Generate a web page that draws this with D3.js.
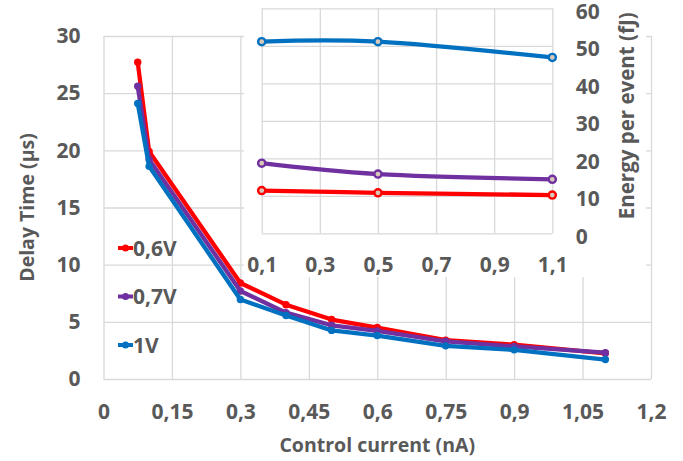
<!DOCTYPE html>
<html lang="en">
<head>
  <meta charset="UTF-8">
  <title>Delay time and energy</title>
  <script src="https://cdn.jsdelivr.net/npm/d3@7"></script>
  <style>
    html, body {
      margin: 0;
      padding: 0;
      background: #fff;
    }
    text {
      font-family: "Open Sans", Lato, sans-serif;
      font-weight: bold;
      fill: #595959;
    }
  </style>
</head>
<body>
  <svg id="chart" width="683" height="461"></svg>
  <script>
    // main chart: delay time vs control current
    const currents = [0.075, 0.1, 0.3, 0.4, 0.5, 0.6, 0.75, 0.9, 1.1];
    const delay06 = [27.7, 19.9, 8.4, 6.5, 5.2, 4.5, 3.4, 3.0, 2.25];
    const delay07 = [25.6, 19.2, 7.7, 5.8, 4.7, 4.2, 3.3, 2.85, 2.3];
    const delay1 = [24.1, 18.6, 6.95, 5.55, 4.25, 3.8, 2.9, 2.55, 1.7];
    const mainXTicks = [0, 0.15, 0.3, 0.45, 0.6, 0.75, 0.9, 1.05, 1.2];
    const mainYTicks = [0, 5, 10, 15, 20, 25, 30];

    // inset: energy per event
    const insetCurrents = [0.1, 0.5, 1.1];
    const energy06 = [11.4, 10.8, 10.2];
    const energy07 = [18.7, 15.8, 14.4];
    const energy1 = [51.1, 51.1, 46.9];
    const insetXTicks = [0.1, 0.3, 0.5, 0.7, 0.9, 1.1];
    const insetYTicks = [0, 10, 20, 30, 40, 50, 60];

    const seriesNames = ['0,6V', '0,7V', '1V'];
    const colors = ['#ff0000', '#7030a0', '#0070c0'];

    const locale = d3.formatLocale({decimal: ',', thousands: '.', grouping: [3], currency: ['', '']});
    const fmt2 = locale.format('.2~f');
    const fmt1 = locale.format('.1f');

    const svg = d3.select('#chart');
    const grid = '#d9d9d9';

    // ---- main chart
    const x = d3.scaleLinear().domain([0, 1.2]).range([103.5, 651]);
    const y = d3.scaleLinear().domain([0, 30]).range([379, 36]);

    const main = svg.append('g');

    // gridlines
    main.append('g')
      .attr('transform', `translate(0,${y(0)})`)
      .call(d3.axisBottom(x).tickValues(mainXTicks).tickSize(y(30) - y(0)).tickFormat(''))
      .call(g => g.select('.domain').remove())
      .call(g => g.selectAll('line').attr('stroke', grid).attr('stroke-width', 1.3));
    main.append('g')
      .attr('transform', `translate(${x(0)},0)`)
      .call(d3.axisLeft(y).tickValues(mainYTicks).tickSize(x(0) - x(1.2)).tickFormat(''))
      .call(g => g.select('.domain').remove())
      .call(g => g.selectAll('line').attr('stroke', grid).attr('stroke-width', 1.3));

    // tick labels
    main.append('g')
      .attr('transform', `translate(0,${y(0)})`)
      .call(d3.axisBottom(x).tickValues(mainXTicks).tickSize(0).tickPadding(25).tickFormat(fmt2))
      .call(g => g.select('.domain').remove())
      .call(g => g.selectAll('text').attr('font-size', 21).attr('fill', '#595959').attr('font-family', null));
    main.append('g')
      .attr('transform', `translate(${x(0)},0)`)
      .call(d3.axisLeft(y).tickValues(mainYTicks).tickSize(0).tickPadding(23))
      .call(g => g.select('.domain').remove())
      .call(g => g.selectAll('text').attr('font-size', 21).attr('fill', '#595959').attr('font-family', null));

    main.append('text')
      .attr('x', (x(0) + x(1.2)) / 2)
      .attr('y', 445)
      .attr('dy', '0.35em')
      .attr('text-anchor', 'middle')
      .attr('font-size', 19.5)
      .text('Control current (nA)');
    main.append('text')
      .attr('transform', `translate(27,${(y(0) + y(30)) / 2}) rotate(-90)`)
      .attr('dy', '0.35em')
      .attr('text-anchor', 'middle')
      .attr('font-size', 19.5)
      .text('Delay Time (µs)');

    const delays = [delay06, delay07, delay1];
    const mainLine = d3.line().x(d => x(d[0])).y(d => y(d[1]));
    delays.forEach((vals, i) => {
      const pts = currents.map((c, j) => [c, vals[j]]);
      const g = main.append('g');
      g.append('path')
        .attr('d', mainLine(pts))
        .attr('fill', 'none')
        .attr('stroke', colors[i])
        .attr('stroke-width', 4.3)
        .attr('stroke-linejoin', 'round');
      g.selectAll('circle').data(pts).join('circle')
        .attr('cx', d => x(d[0]))
        .attr('cy', d => y(d[1]))
        .attr('r', 3.7)
        .attr('fill', colors[i]);
    });

    // legend
    const legendY = [248, 296.5, 345];
    seriesNames.forEach((name, i) => {
      const g = main.append('g').attr('transform', `translate(0,${legendY[i]})`);
      g.append('line').attr('x1', 118).attr('x2', 133)
        .attr('stroke', colors[i]).attr('stroke-width', 4);
      g.append('circle').attr('cx', 125.5).attr('r', 3.5).attr('fill', colors[i]);
      g.append('text').attr('x', 133).attr('dy', '0.36em').attr('font-size', 21).text(name);
    });

    // ---- inset
    const ix = d3.scaleLinear().domain([0.1, 1.1]).range([261.7, 552.3]);
    const iy = d3.scaleLinear().domain([0, 60]).range([233.3, 8.3]);
    const inset = svg.append('g');

    inset.append('rect')
      .attr('x', 244).attr('y', 0).attr('width', 402).attr('height', 277)
      .attr('fill', '#fff');

    inset.append('g')
      .attr('transform', `translate(0,${iy(0)})`)
      .call(d3.axisBottom(ix).tickValues(insetXTicks).tickSize(iy(60) - iy(0)).tickFormat(''))
      .call(g => g.select('.domain').remove())
      .call(g => g.selectAll('line').attr('stroke', grid).attr('stroke-width', 1.3));
    inset.append('g')
      .attr('transform', `translate(${ix(0.1)},0)`)
      .call(d3.axisLeft(iy).tickValues(insetYTicks).tickSize(ix(0.1) - ix(1.1)).tickFormat(''))
      .call(g => g.select('.domain').remove())
      .call(g => g.selectAll('line').attr('stroke', grid).attr('stroke-width', 1.3));

    inset.append('g')
      .attr('transform', `translate(0,${iy(0)})`)
      .call(d3.axisBottom(ix).tickValues(insetXTicks).tickSize(0).tickPadding(24).tickFormat(fmt1))
      .call(g => g.select('.domain').remove())
      .call(g => g.selectAll('text').attr('font-size', 21).attr('fill', '#595959').attr('font-family', null));
    inset.append('g')
      .attr('transform', `translate(${ix(1.1)},0)`)
      .call(d3.axisRight(iy).tickValues(insetYTicks).tickSize(0).tickPadding(23.5))
      .call(g => g.select('.domain').remove())
      .call(g => g.selectAll('text').attr('font-size', 21).attr('fill', '#595959')
        .attr('font-family', null).attr('dy', '0.47em'));

    inset.append('text')
      .attr('transform', `translate(627,${(iy(0) + iy(60)) / 2 - 5}) rotate(-90)`)
      .attr('dy', '0.35em')
      .attr('text-anchor', 'middle')
      .attr('font-size', 20.5)
      .text('Energy per event (fJ)');

    const energies = [energy06, energy07, energy1];
    const insetLine = d3.line().x(d => ix(d[0])).y(d => iy(d[1])).curve(d3.curveCardinal.tension(0));
    energies.forEach((vals, i) => {
      const pts = insetCurrents.map((c, j) => [c, vals[j]]);
      const g = inset.append('g');
      g.append('path')
        .attr('d', insetLine(pts))
        .attr('fill', 'none')
        .attr('stroke', colors[i])
        .attr('stroke-width', 4.3);
      g.selectAll('circle').data(pts).join('circle')
        .attr('cx', d => ix(d[0]))
        .attr('cy', d => iy(d[1]))
        .attr('r', 3.6)
        .attr('fill', '#d8c8b8')
        .attr('stroke', colors[i])
        .attr('stroke-width', 2.4);
    });
  </script>
</body>
</html>
